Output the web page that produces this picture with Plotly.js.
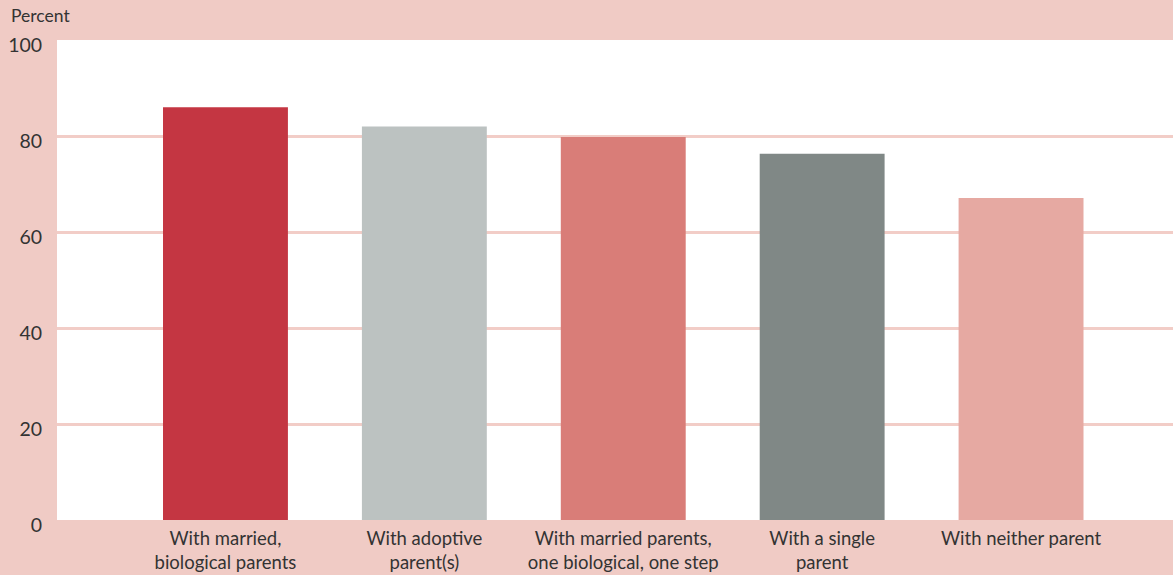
<!DOCTYPE html>
<html>
<head>
<meta charset="utf-8">
<script src="https://cdn.plot.ly/plotly-3.0.1.min.js"></script>
<style>html,body{margin:0;padding:0;background:#f0cbc5;}#chart{width:1173px;height:575px;}</style>
</head>
<body>
<div id="chart"></div>
<script>
const categories = [
  "With married,<br>biological parents",
  "With adoptive<br>parent(s)",
  "With married parents,<br>one biological, one step",
  "With a single<br>parent",
  "With neither parent"
];
const values = [86, 82, 79.8, 76.3, 67.1];
const barColors = ["#c43642", "#bcc2c1", "#d97d78", "#808886", "#e6a9a2"];
const yTicks = [0, 20, 40, 60, 80, 100];

const fontFam = "Lato, 'Open Sans', sans-serif";
Plotly.newPlot("chart", [{
  type: "bar",
  x: categories,
  y: values,
  marker: {color: barColors},
  width: 0.628,
  hoverinfo: "skip"
}], {
  width: 1173, height: 575,
  margin: {l: 57, r: 0, t: 40, b: 55, pad: 0},
  paper_bgcolor: "#f0cbc5",
  plot_bgcolor: "#ffffff",
  showlegend: false,
  font: {family: fontFam, size: 18.5, color: "#333333"},
  xaxis: {
    type: "category",
    range: [-0.847, 4.764],
    showgrid: false, zeroline: false, showline: false,
    ticks: "outside", ticklen: 2, tickcolor: "rgba(0,0,0,0)",
    tickfont: {family: fontFam, size: 18.5, color: "#333333"}
  },
  yaxis: {
    range: [0, 100],
    tickvals: yTicks,
    ticktext: yTicks.map(String),
    showgrid: true, gridcolor: "#f2cdc7", gridwidth: 3,
    zeroline: false, showline: false,
    ticks: "outside", ticklen: 10, tickcolor: "rgba(0,0,0,0)",
    ticklabelshift: 5,
    tickfont: {family: fontFam, size: 19.5, color: "#333333"}
  },
  annotations: [{
    text: "Percent", xref: "paper", yref: "paper", x: 0, y: 1,
    xanchor: "left", yanchor: "bottom", showarrow: false,
    xshift: -48, yshift: 12,
    font: {family: fontFam, size: 17.5, color: "#333333"}
  }]
}, {displayModeBar: false, staticPlot: true});
</script>
</body>
</html>
